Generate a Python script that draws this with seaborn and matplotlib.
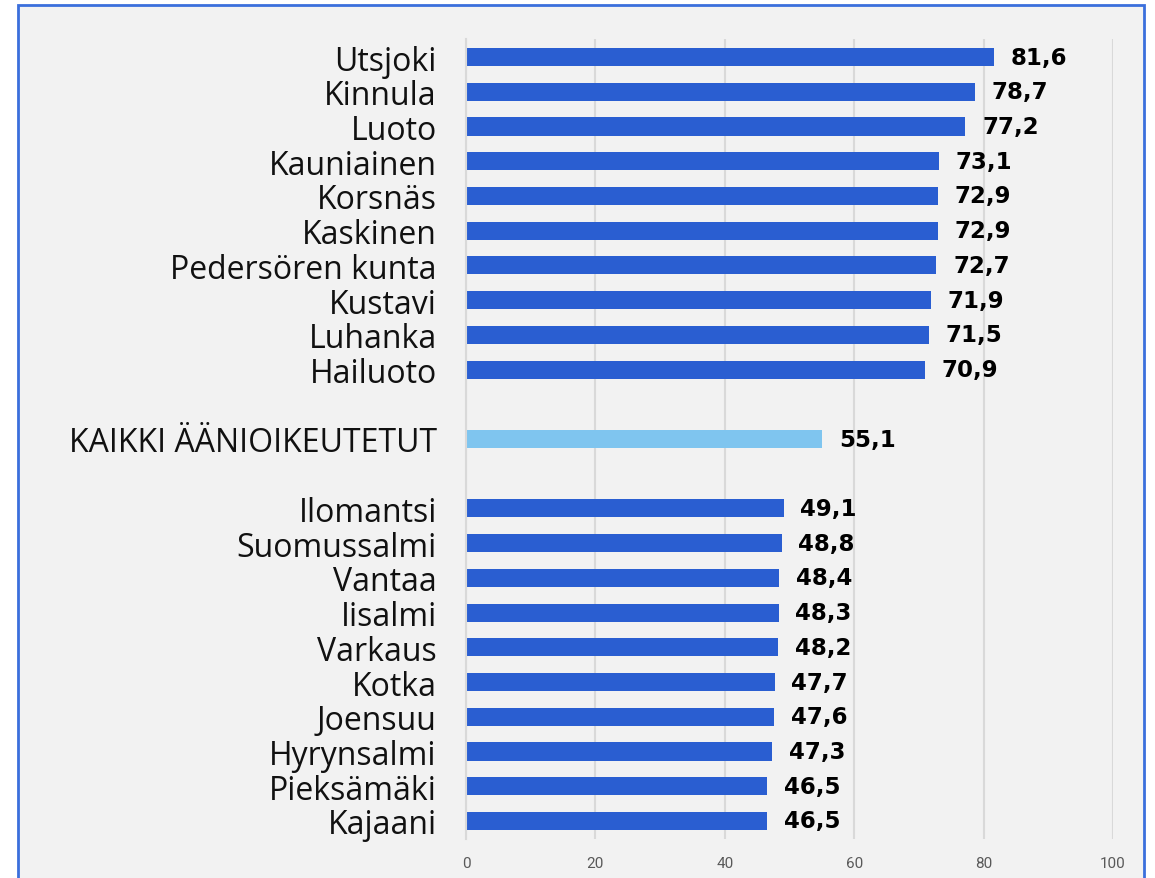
import numpy as np
import pandas as pd
import matplotlib
matplotlib.use("Agg")
import matplotlib.pyplot as plt
from matplotlib.patches import Rectangle
import seaborn as sns

# data
top_names = ["Utsjoki", "Kinnula", "Luoto", "Kauniainen", "Korsnäs", "Kaskinen",
             "Pedersören kunta", "Kustavi", "Luhanka", "Hailuoto"]
top_vals = [81.6, 78.7, 77.2, 73.1, 72.9, 72.9, 72.7, 71.9, 71.5, 70.9]
all_name = "KAIKKI ÄÄNIOIKEUTETUT"
all_val = 55.1
low_names = ["Ilomantsi", "Suomussalmi", "Vantaa", "Iisalmi", "Varkaus", "Kotka",
             "Joensuu", "Hyrynsalmi", "Pieksämäki", "Kajaani"]
low_vals = [49.1, 48.8, 48.4, 48.3, 48.2, 47.7, 47.6, 47.3, 46.5, 46.5]

labels = top_names + [" "] + [all_name] + ["  "] + low_names
values = top_vals + [np.nan] + [all_val] + [np.nan] + low_vals
group = ["kunta"] * 10 + ["kunta", "kaikki", "kunta"] + ["kunta"] * 10
df = pd.DataFrame({"nimi": labels, "osuus": values, "ryhma": group})

sns.set_style("white")
plt.rcParams["font.family"] = ["Open Sans", "DejaVu Sans"]

fig = plt.figure(figsize=(11.55, 8.79), dpi=100)
fig.patch.set_facecolor("white")
# framed background
fig.patches.append(Rectangle((18 / 1155, -0.01), (1144 - 18) / 1155, 1 - 6 / 879 + 0.01,
                             transform=fig.transFigure, facecolor="#f2f2f2",
                             edgecolor="#3b6fdc", linewidth=2, zorder=-10))

ax = fig.add_axes([466 / 1155, 1 - 840 / 879, (1113 - 466) / 1155, 800 / 879])
ax.set_facecolor("none")

sns.barplot(data=df, y="nimi", x="osuus", hue="ryhma", orient="h", ax=ax,
            palette={"kunta": "#2a5ed1", "kaikki": "#7fc5ef"},
            width=0.52, dodge=False, legend=False, saturation=1,
            edgecolor="none")

for c in ax.containers:
    lbls = ["" if np.isnan(v) else f"{v:.1f}".replace(".", ",") for v in c.datavalues]
    ax.bar_label(c, labels=lbls, padding=12, fontsize=16.5, fontweight="bold",
                 family=["DejaVu Sans"], color="black")

ax.set_xlim(0, 100)
ax.set_ylim(22.52, -0.52)
ax.set_xticks([0, 20, 40, 60, 80, 100])
ax.xaxis.grid(True, color="#d9d9d9", linewidth=1.5)
ax.set_axisbelow(True)
ax.tick_params(axis="x", length=0, labelsize=11, labelcolor="#595959", pad=12)
ax.tick_params(axis="y", length=0, labelsize=23, labelcolor="#111111", pad=21)
for t in ax.get_xticklabels():
    t.set_family(["Roboto", "DejaVu Sans"])
ax.set_xlabel("")
ax.set_ylabel("")
for s in ["top", "right", "bottom"]:
    ax.spines[s].set_visible(False)
ax.spines["left"].set_color("#d9d9d9")
ax.spines["left"].set_linewidth(1.5)

fig.savefig("out.png", dpi=100)
